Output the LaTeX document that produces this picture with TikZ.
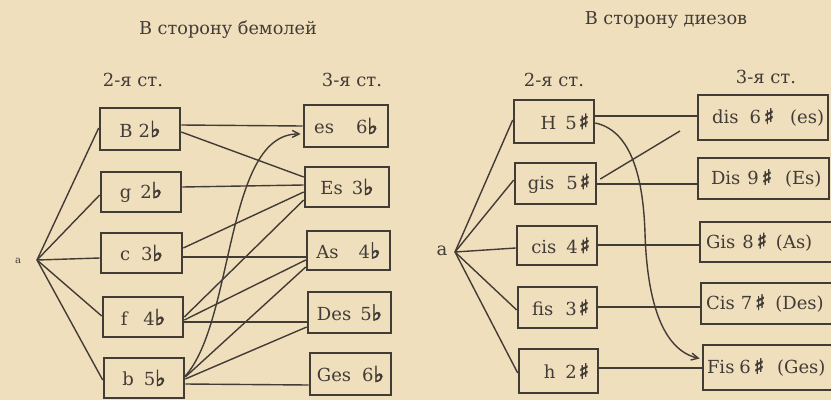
\documentclass[tikz,border=0pt]{standalone}
\usepackage{fontspec}
\setmainfont{DejaVu Serif}
\newfontfamily\symf[FakeBold=3]{DejaVu Sans}
\usetikzlibrary{calc,arrows.meta}
\definecolor{bgc}{RGB}{240,223,189}
\definecolor{ink}{RGB}{66,60,55}
\newcommand\fl{{\symf\fontsize{22}{22}\selectfont ♭}}
\newcommand\sh{{\symf\fontsize{21}{21}\selectfont ♯}}
\newcommand\gp[1]{\hspace*{#1pt}}
\newcommand\lbx[2]{\makebox[#1][l]{#2}}
\newcommand\rbx[2]{\makebox[#1][r]{#2}}
\begin{document}
\begin{tikzpicture}[x=1pt,y=-1pt,
  box/.style={draw=ink,line width=2.6pt,inner sep=0pt,text=ink,font=\fontsize{18}{20}\selectfont},
  conn/.style={draw=ink,line width=1.4pt},
  arr/.style={conn,-{Straight Barb[length=7pt,width=7pt]}},
  lab/.style={text=ink,inner sep=0pt,font=\fontsize{18}{20}\selectfont}]
\fill[bgc] (0,0) rectangle (831,400);
\useasboundingbox (0,0) rectangle (831,400);

% titles
\node[lab,font=\fontsize{17.7}{20}\selectfont] (t1) at (228,30) {В сторону бемолей};
\node[lab,font=\fontsize{17.7}{20}\selectfont] (t2) at (666,20) {В сторону диезов};
\node[lab] (s1) at (133,80) {2-я ст.};
\node[lab] (s2) at (352,80) {3-я ст.};
\node[lab] (s3) at (554,80) {2-я ст.};
\node[lab] (s4) at (766,77) {3-я ст.};

% left side
\node[lab,font=\fontsize{10}{12}\selectfont] (aL) at (18,261) {a};
\coordinate (PL) at (37,260);
\node[box,minimum width=80pt,minimum height=42pt] (B) at (140,129) {B\gp{6}2\fl};
\node[box,minimum width=80pt,minimum height=40pt] (g) at (141,192) {g\gp{9}2\fl};
\node[box,minimum width=81pt,minimum height=40pt] (c) at (141.5,253) {c\gp{11}3\fl};
\node[box,minimum width=80pt,minimum height=40pt] (f) at (143,317) {f\gp{16}4\fl};
\node[box,minimum width=80pt,minimum height=40pt] (b) at (144,378) {b\gp{10}5\fl};

\node[box,minimum width=84pt,minimum height=42pt] (es) at (346,126) {es\gp{22}6\fl};
\node[box,minimum width=84pt,minimum height=40pt] (Es) at (347,187) {Es\gp{9}3\fl};
\node[box,minimum width=83pt,minimum height=39pt] (As) at (348.5,250.5) {As\gp{20}4\fl};
\node[box,minimum width=83pt,minimum height=41pt] (Des) at (349.5,312.5) {Des\gp{9}5\fl};
\node[box,minimum width=81pt,minimum height=42pt] (Ges) at (350.5,374) {Ges\gp{11}6\fl};

\draw[conn] (PL) -- ($(B.west)+(0,-1)$);
\draw[conn] (PL) -- ($(g.west)+(0,3)$);
\draw[conn] (PL) -- ($(c.west)+(0,5)$);
\draw[conn] (PL) -- ($(f.west)+(0,-1)$);
\draw[conn] (PL) -- ($(b.west)+(0,2)$);

\draw[conn] ($(B.east)+(0,-4)$) -- ($(es.west)+(0,0)$);
\draw[conn] ($(B.east)+(0,3)$) -- ($(Es.west)+(0,-10)$);
\draw[conn] ($(g.east)+(0,-5)$) -- ($(Es.west)+(0,-2)$);
\draw[conn] ($(c.east)+(0,-5)$) -- ($(Es.west)+(0,5)$);
\draw[conn] ($(c.east)+(0,4)$) -- ($(As.west)+(0,6.5)$);
\draw[conn] ($(f.east)+(0,0)$) -- ($(Es.west)+(0,13)$);
\draw[conn] ($(f.east)+(0,3)$) -- ($(As.west)+(0,9.5)$);
\draw[conn] ($(f.east)+(0,5)$) -- ($(Des.west)+(0,9.5)$);
\draw[conn] ($(b.east)+(0,-1)$) -- ($(As.west)+(0,16.5)$);
\draw[conn] ($(b.east)+(0,1)$) -- ($(Des.west)+(0,14.5)$);
\draw[conn] ($(b.east)+(0,6)$) -- ($(Ges.west)+(0,11)$);
\draw[arr] ($(b.east)+(0,-2)$) .. controls (235,320) and (225,133) .. ($(es.west)+(-2,8)$);

% right side
\node[lab] (aR) at (442,251) {a};
\coordinate (PR) at (455,252);
\node[box,minimum width=80pt,minimum height=43pt] (H) at (554,121.5) {\rbx{80pt}{H\gp{9}5\gp{2}\sh\gp{5}}};
\node[box,minimum width=81pt,minimum height=41pt] (gis) at (555.5,183.5) {\rbx{81pt}{gis\gp{12}5\gp{2}\sh\gp{6}}};
\node[box,minimum width=80pt,minimum height=39pt] (cis) at (557,245.5) {\rbx{80pt}{cis\gp{10}4\gp{2}\sh\gp{7}}};
\node[box,minimum width=79pt,minimum height=41pt] (fis) at (557.5,307.5) {\rbx{79pt}{fis\gp{12}3\gp{2}\sh\gp{8}}};
\node[box,minimum width=79pt,minimum height=44pt] (h) at (558.5,371) {\rbx{79pt}{h\gp{10}2\gp{2}\sh\gp{9}}};

\node[box,minimum width=130pt,minimum height=45pt] (dis) at (763,117.5) {\lbx{130pt}{\gp{14}dis\gp{11}6\gp{3}\sh\gp{16}(es)}};
\node[box,minimum width=131pt,minimum height=41pt] (Dis) at (763.5,178.5) {\lbx{131pt}{\gp{13}Dis\gp{7}9\gp{3}\sh\gp{13}(Es)}};
\node[box,minimum width=140pt,minimum height=40pt] (Gis) at (770,242) {\lbx{140pt}{\gp{6}Gis\gp{7}8\gp{3}\sh\gp{9}(As)}};
\node[box,minimum width=140pt,minimum height=41pt] (Cis) at (771,303.5) {\lbx{140pt}{\gp{5}Cis\gp{6}7\gp{3}\sh\gp{10}(Des)}};
\node[box,minimum width=140pt,minimum height=45pt] (Fis) at (773,367.5) {\lbx{140pt}{\gp{4}Fis\gp{5}6\gp{3}\sh\gp{13}(Ges)}};

\coordinate (gend) at (680,131);
\draw[conn] (PR) -- ($(H.west)+(0,-1.5)$);
\draw[conn] (PR) -- ($(gis.west)+(0,-3.5)$);
\draw[conn] (PR) -- ($(cis.west)+(0,2.5)$);
\draw[conn] (PR) -- ($(fis.west)+(0,2.5)$);
\draw[conn] (PR) -- ($(h.west)+(0,2)$);

\draw[conn] ($(H.east)+(0,-5.5)$) -- ($(dis.west)+(0,-1.5)$);
\draw[conn] ($(gis.east)+(0,0.5)$) -- ($(Dis.west)+(0,5.5)$);
\draw[conn] ($(cis.east)+(0,-0.5)$) -- ($(Gis.west)+(0,3)$);
\draw[conn] ($(fis.east)+(0,-0.5)$) -- ($(Cis.west)+(0,3.5)$);
\draw[conn] ($(h.east)+(0,-3)$) -- ($(Fis.west)+(0,0.5)$);
\draw[conn] ($(gis.east)+(3,-4.5)$) -- (gend);
\draw[arr] ($(H.east)+(0,1.5)$) .. controls (628,130) and (643,170) .. (645,233)
  .. controls (647,300) and (662,350) .. ($(Fis.west)+(-2,-9)$);
\end{tikzpicture}
\end{document}
